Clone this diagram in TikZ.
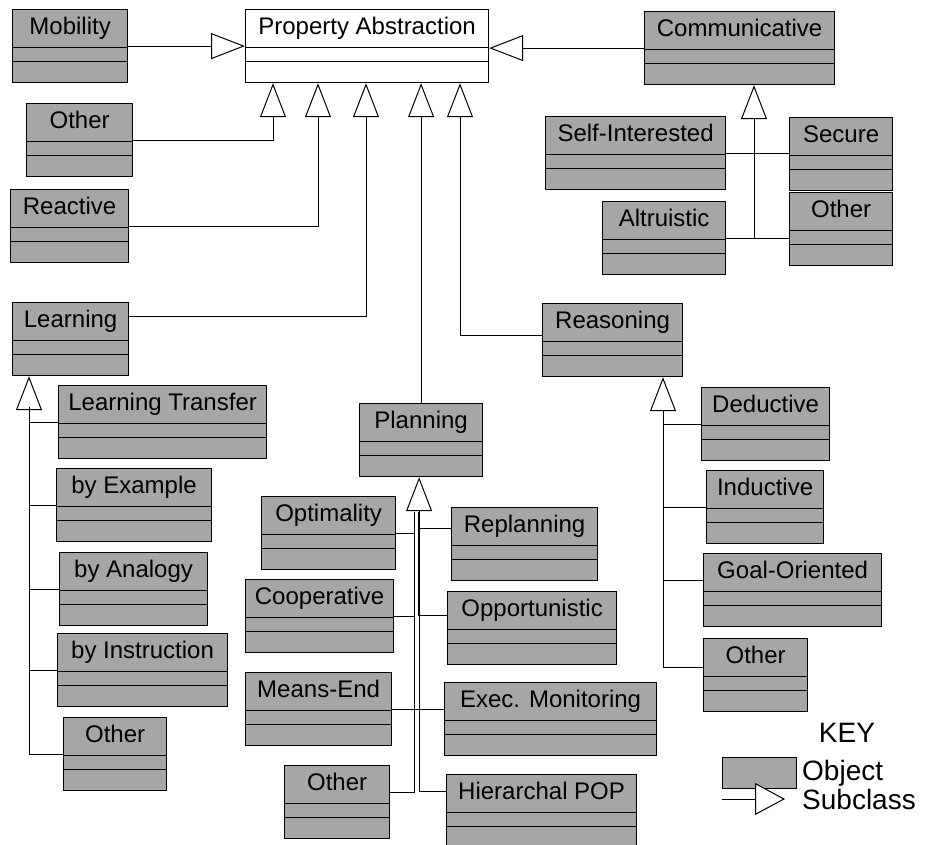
\documentclass[tikz,border=0pt]{standalone}
\usepackage{fontspec}
\setmainfont{Liberation Sans}
\usetikzlibrary{arrows.meta}
\definecolor{objgray}{gray}{0.65}

\begin{document}
\begin{tikzpicture}[x=1pt, y=-1pt]
    \tikzstyle{object} = [draw, line width=1.2pt, fill=objgray, anchor=north west,
                          inner sep=0pt, text height=25pt, text depth=48pt,
                          font=\fontsize{24}{27}\selectfont,
                          path picture={\draw [line width=1pt]
                            ([yshift=-38pt]path picture bounding box.north west) --
                            ([yshift=-38pt]path picture bounding box.north east)
                            ([yshift=-52pt]path picture bounding box.north west) --
                            ([yshift=-52pt]path picture bounding box.north east);}]
    \tikzstyle{subclass} = [line width=1pt, -{Triangle[open, fill=white, length=34pt, width=26pt]}]
    \tikzstyle{link} = [line width=1pt]
    \tikzstyle{keytext} = [inner sep=0pt, font=\fontsize{28}{31}\selectfont]

    \useasboundingbox [fill=white] (0,0) rectangle (927,845);

    % Root class
    \node [object, fill=white, minimum width=243pt] (Property) at (245,9) {Property Abstraction};

    % Left of root, top box
    \node [object, minimum width=115pt] (Mobility) at (12,9) {Mobility};
    \draw [subclass] (Mobility.east) -- (Property.west);

    % Left of root, second box
    \node [object, minimum width=106pt] (OtherA) at (26,103) {Other};
    \draw [subclass] (OtherA.east) -| ([xshift=28pt]Property.south west);

    % Left of root, third box
    \node [object, minimum width=118pt] (Reactive) at (10,189) {Reactive};
    \draw [subclass] (Reactive.east) -| ([xshift=73pt]Property.south west);

    % Right of root
    \node [object, minimum width=190pt] (Communicative) at (644,11) {Communicative};
    \draw [subclass] (Communicative.west) -- (Communicative.west -| Property.east);

      % Communicative is parent, left pair
      \node [object, minimum width=180pt] (SelfInt) at (545,116) {Self-Interested};
      \node [object, minimum width=123pt] (Altruistic) at (602,201) {Altruistic};
      \draw [subclass] (Altruistic.east) -| ([xshift=110pt]Communicative.south west);

      % Communicative is parent, right pair
      \node [object, minimum width=103pt] (Secure) at (789,117) {Secure};
      \node [object, minimum width=103pt] (OtherC) at (789,192) {Other};
      \draw [link] (SelfInt.east) -- (SelfInt.east -| Secure.west);
      \draw [link] (OtherC.west |- Altruistic.east) -- (Altruistic.east);

    % Below root, left branch
    \node [object, minimum width=116pt] (Learning) at (12,302) {Learning};
    \draw [subclass] ([yshift=-15pt]Learning.north east) -| ([xshift=121pt]Property.south west);

      % Learning is parent, trunk at foot of triangle
      \coordinate (LearnBus) at (29,407);
      \node [object, minimum width=208pt] (LearnTransfer) at (58,385) {Learning Transfer};
      \node [object, minimum width=155pt] (ByExample) at (56,468) {by Example};
      \node [object, minimum width=148pt] (ByAnalogy) at (59,552) {by Analogy};
      \node [object, minimum width=170pt] (ByInstr) at (57,633) {by Instruction};
      \node [object, minimum width=103pt] (OtherL) at (63,717) {Other};
      \draw [subclass] (OtherL.west) -| ([xshift=17pt]Learning.south west);
      \draw [link] (LearnTransfer.west) -| (LearnBus);
      \draw [link] (ByExample.west) -| (LearnBus);
      \draw [link] (ByAnalogy.west) -| (LearnBus);
      \draw [link] (ByInstr.west) -| (LearnBus);

    % Below root, middle branch
    \node [object, minimum width=123pt] (Planning) at (359,403) {Planning};
    \draw [subclass] (Planning.north) -- (Planning.north |- Property.south);

      % Planning is parent, two trunks under one triangle
      \coordinate (PlanBusL) at (414.5,512);
      \coordinate (PlanBusR) at (418.5,512);
      \node [object, minimum width=134pt] (Optimality) at (261,496) {Optimality};
      \node [object, minimum width=148pt] (Cooperative) at (245,579) {Cooperative};
      \node [object, minimum width=146pt] (MeansEnd) at (245,672) {Means-End};
      \node [object, minimum width=105pt] (OtherP) at (284,765) {Other};
      \node [object, minimum width=146pt] (Replanning) at (451,507) {Replanning};
      \node [object, minimum width=169pt] (Opportunistic) at (447,591) {Opportunistic};
      \node [object, minimum width=212pt] (ExecMon) at (444,682) {Exec. Monitoring};
      \node [object, minimum width=190pt] (HierPOP) at (446,774) {Hierarchal POP};
      \draw [subclass] ([yshift=20pt]HierPOP.west) -| ([xshift=-2pt]Planning.south);
      \draw [link] ([yshift=10pt]OtherP.east) -| (PlanBusL);
      \draw [link] (Optimality.east) -| (PlanBusL);
      \draw [link] (Cooperative.east) -| (PlanBusL);
      \draw [link] ([yshift=16pt]Replanning.west) -| (PlanBusR);
      \draw [link] ([yshift=13pt]Opportunistic.west) -| (PlanBusR);
      \draw [link] (MeansEnd.east) -- (MeansEnd.east -| ExecMon.west);

    % Below root, right branch
    \node [object, minimum width=140pt] (Reasoning) at (542,303) {Reasoning};
    \draw [subclass] ([yshift=5pt]Reasoning.west) -| ([xshift=215pt]Property.south west);

      % Reasoning is parent, trunk at foot of triangle
      \coordinate (ReasonBus) at (663,410);
      \node [object, minimum width=128pt] (Deductive) at (701,387) {Deductive};
      \node [object, minimum width=117pt] (Inductive) at (706,470) {Inductive};
      \node [object, minimum width=178pt] (GoalOr) at (703,553) {Goal-Oriented};
      \node [object, minimum width=104pt] (OtherR) at (703,638) {Other};
      \draw [subclass] ([yshift=8pt]OtherR.west) -| ([xshift=121pt]Reasoning.south west);
      \draw [link] (Deductive.west) -| (ReasonBus);
      \draw [link] (Inductive.west) -| (ReasonBus);
      \draw [link] ([yshift=10pt]GoalOr.west) -| (ReasonBus);

    % Key, bottom right
    \node [keytext] (KeyTitle) at (847,733) {KEY};
    \node [draw, line width=1.2pt, fill=objgray, anchor=north west, inner sep=0pt,
           minimum width=74pt, minimum height=31pt] (KeyObject) at (722,757) {};
    \node [keytext, anchor=base west] (KeyObjectText) at (802,780) {Object};
    \node [keytext, anchor=base west] (KeySubclassText) at (802,809) {Subclass};
    \coordinate (KeyTail) at (722,799);
    \coordinate (KeyTip) at (785,799);
    \draw [line width=1pt, -{Triangle[open, fill=white, length=30pt, width=32pt]}] (KeyTail) -- (KeyTip);
\end{tikzpicture}
\end{document}
